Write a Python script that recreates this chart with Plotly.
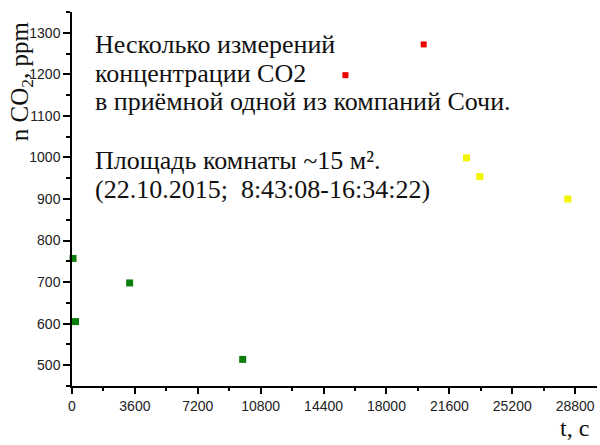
import plotly.graph_objects as go

# measurements: time since start (s) and CO2 concentration (ppm)
green_t = [60, 200, 3300, 9770]
green_ppm = [757, 605, 698, 514]
red_t = [15650, 20130]
red_ppm = [1198, 1272]
yellow_t = [22580, 23340, 28380]
yellow_ppm = [999, 954, 900]

x_ticks = [0, 3600, 7200, 10800, 14400, 18000, 21600, 25200, 28800]
y_ticks = [500, 600, 700, 800, 900, 1000, 1100, 1200, 1300]

note_lines = [
    "Несколько измерений",
    "концентрации CO2",
    "в приёмной одной из компаний Сочи.",
    "",
    "Площадь комнаты ~15 м².",
    "(22.10.2015;  8:43:08-16:34:22)",
]

fig = go.Figure()
for t, ppm, col, sz in [(green_t, green_ppm, "#0b7d0b", 7),
                        (red_t, red_ppm, "#ee0000", 6),
                        (yellow_t, yellow_ppm, "#f4f400", 7)]:
    fig.add_trace(go.Scatter(x=t, y=ppm, mode="markers", cliponaxis=False,
                             marker=dict(symbol="square", size=sz, color=col,
                                         line=dict(width=0))))

axis_common = dict(showgrid=False, zeroline=False, showline=True, linecolor="black",
                   linewidth=1.5, ticks="outside", tickcolor="black", tickwidth=1.5,
                   automargin=False,
                   tickfont=dict(family="Liberation Sans, Arial", size=14, color="#222"))

fig.update_xaxes(range=[0, 30050], tickvals=x_ticks, ticktext=[str(v) for v in x_ticks],
                 ticklen=6,
                 minor=dict(ticks="outside", ticklen=3, dtick=1800, tick0=0,
                            tickcolor="black", tickwidth=1.5),
                 **axis_common)
fig.update_yaxes(range=[450, 1350], tickvals=y_ticks, ticktext=[str(v) for v in y_ticks],
                 ticklen=7,
                 minor=dict(ticks="outside", ticklen=4, dtick=50, tick0=0,
                            tickcolor="black", tickwidth=1.5),
                 **axis_common)

serif = "Liberation Serif, Times New Roman, serif"
# text block, one annotation per line (pixel baselines converted to paper coords)
plot_h = 374
baselines = [52, 81, 110, 139, 168, 197]
for line, base in zip(note_lines, baselines):
    if not line:
        continue
    fig.add_annotation(text=line, xref="paper", yref="paper",
                       x=(93 - 72) / 525, y=(386 - (base - 8)) / plot_h,
                       xanchor="left", yanchor="middle", align="left",
                       showarrow=False, font=dict(family=serif, size=26, color="#111"))

fig.add_annotation(text="n CO<sub>2</sub>, ppm", xref="paper", yref="paper",
                   x=-0.097, y=0.815, xanchor="center", yanchor="middle",
                   textangle=-90, showarrow=False,
                   font=dict(family=serif, size=25, color="#111"))
fig.add_annotation(text="t, c", xref="paper", yref="paper",
                   x=0.958, y=-0.112, xanchor="center", yanchor="middle",
                   showarrow=False,
                   font=dict(family=serif, size=24, color="#111"))

fig.update_layout(width=600, height=445, showlegend=False,
                  margin=dict(l=72, r=3, t=12, b=59),
                  plot_bgcolor="white", paper_bgcolor="white")

# drop the default page margin so the figure sits at the window's corner
fig.write_html("out.html", config={"displayModeBar": False},
               post_script="document.body.style.margin='0';")
